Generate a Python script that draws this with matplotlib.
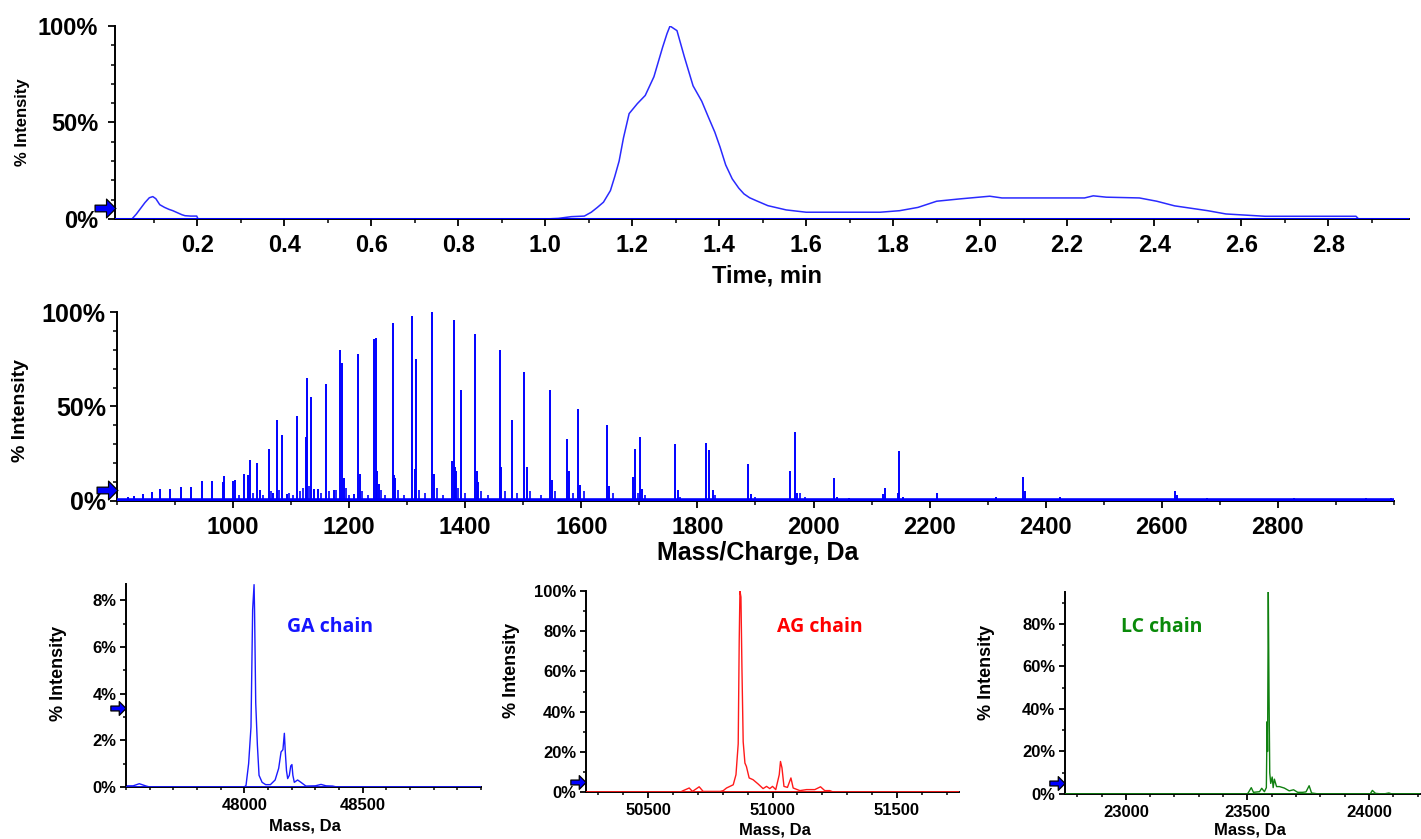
import numpy as np
import matplotlib
matplotlib.use("Agg")
import matplotlib.pyplot as plt
from matplotlib.path import Path
from matplotlib.ticker import MultipleLocator, FuncFormatter, FixedLocator
import matplotlib.transforms as mtransforms

plt.rcParams['font.family'] = ['Liberation Sans', 'DejaVu Sans']
plt.rcParams['font.weight'] = 'bold'

# ---------------- data ----------------
# Top: chromatogram (Time, min vs % intensity)
tic_time = [0.011, 0.05, 0.06, 0.07, 0.08, 0.09, 0.098, 0.105, 0.114, 0.125, 0.135,
            0.144, 0.155, 0.165, 0.172, 0.185, 0.199, 0.202, 1.0, 1.03, 1.06, 1.09,
            1.106, 1.12, 1.134, 1.15, 1.16, 1.17, 1.18, 1.193, 1.212, 1.23, 1.25,
            1.27, 1.28, 1.287, 1.303, 1.32, 1.34, 1.36, 1.375, 1.39, 1.402, 1.415,
            1.43, 1.445, 1.457, 1.47, 1.485, 1.512, 1.554, 1.6, 1.77, 1.815, 1.857,
            1.9, 1.953, 2.022, 2.05, 2.24, 2.26, 2.29, 2.366, 2.406, 2.447, 2.523,
            2.565, 2.655, 2.864, 2.87, 2.986]
tic_int = [0, 0, 2.5, 5.5, 8.5, 11, 11.6, 10.5, 7.4, 6, 5,
           4.3, 3.2, 2.2, 1.7, 1.5, 1.5, 0, 0, 0.3, 1.2, 1.5,
           3.5, 6, 8.7, 14.7, 22, 30, 42, 54.6, 59.8, 64, 73.7,
           89, 96, 100, 97.6, 84, 69, 61, 52.9, 45, 37.3, 28,
           20.8, 16, 13, 11, 9.5, 6.9, 4.7, 3.5, 3.5, 4.3, 6,
           9.2, 10.4, 11.8, 10.9, 10.9, 12, 11.3, 10.9, 9.2, 6.8, 4.3,
           2.6, 1.4, 1.4, 0, 0]

# Middle: mass spectrum (m/z vs % intensity) - main peaks
ms_mz = [818.6, 830, 845.7, 861, 875, 892, 909.7, 927.4, 946, 964.5, 982, 984.6,
         1000, 1003, 1019, 1026, 1028.6, 1041, 1046, 1062.5, 1069.5, 1075, 1085,
         1092.7, 1109.6, 1125, 1128, 1135, 1139, 1146.7, 1160, 1173.7, 1184, 1187,
         1190.7, 1208.5, 1215.5, 1218.5, 1243, 1245.5, 1248.6, 1251, 1275, 1278,
         1279.6, 1309, 1312.7, 1315, 1343, 1346, 1378, 1380.7, 1382, 1383.8, 1393.5,
         1417, 1419.5, 1422, 1459.5, 1462, 1481, 1502, 1505.6, 1546, 1549, 1576,
         1579, 1595, 1598, 1645, 1647, 1689, 1692, 1701, 1704.5, 1760.7, 1766,
         1815.5, 1819.4, 1826, 1887.5, 1893, 1958.8, 1968.3, 1972, 2035.6, 2041,
         2061, 2119.6, 2122.8, 2145, 2147.3, 2154.5, 2213, 2315, 2361, 2365,
         2423.8, 2545, 2622.6, 2627, 2678, 2827, 2952, 2995]
ms_int = [2, 2.6, 3.9, 4.7, 6.5, 6.5, 7.4, 7.4, 10.4, 10.4, 10, 13,
          10.5, 11, 14, 13.5, 21.8, 20, 5.6, 27.6, 4, 42.9, 35,
          3.5, 44.8, 34, 64.9, 55, 6.3, 6.5, 61.9, 5.6, 80, 73,
          12, 3.9, 78, 14, 85.6, 86.5, 16, 8.8, 94.4, 13.5,
          12, 98.2, 17, 75, 100, 14, 21, 96, 18, 16, 59,
          88.6, 16, 10, 80, 18, 43, 68.5, 18, 59, 11, 33,
          16, 48.7, 8.6, 40, 8, 12.6, 27.6, 34, 6.5, 30, 5.6,
          30.8, 27, 6, 19.7, 3.5, 15.8, 36.6, 4.4, 12, 2.3,
          1.4, 3.5, 7, 4.4, 26.2, 1.8, 4.4, 2.3, 12.7, 5.3,
          2.3, 1.2, 5.4, 3, 1.4, 1.4, 1.4, 1.4]
# Middle: small cluster / noise peaks
ms_minor_mz = [1010, 1035, 1052, 1066, 1079, 1097, 1103, 1115, 1120, 1131, 1152, 1165,
               1178, 1195, 1200, 1222, 1232, 1255, 1262, 1285, 1295, 1320, 1330, 1352,
               1362, 1388, 1400, 1428, 1440, 1468, 1490, 1512, 1530, 1555, 1585, 1605,
               1655, 1697, 1710, 1770, 1830, 1900, 1976, 1985]
ms_minor_int = [3, 4, 3, 5, 6, 4, 3, 5, 7, 8, 4, 5,
                6, 7, 3, 5, 3, 6, 3, 6, 3, 6, 4, 7,
                3, 7, 4, 5, 3, 5, 4, 5, 3, 5, 4, 5,
                4, 4, 3, 2, 3, 2, 4, 2]
ms_base_mz = [800, 3000]
ms_base_int = [0.6, 0.6]

# Bottom: deconvoluted spectra
ga_mass = [47500, 47530, 47556, 47585, 47600, 48000, 48007, 48018, 48028, 48035, 48041,
           48043, 48048, 48055, 48062, 48075, 48090, 48110, 48130, 48145, 48155, 48163,
           48169, 48173, 48178, 48183, 48190, 48196, 48201, 48205, 48211, 48225, 48239,
           48260, 48300, 48324, 48345, 48373, 48390, 49000]
ga_int = [0.05, 0.05, 0.14, 0.04, 0, 0, 0.07, 1.0, 2.57, 7.6, 8.67,
          7.6, 3.6, 1.8, 0.5, 0.2, 0.1, 0.1, 0.3, 0.8, 1.5, 1.6,
          2.3, 1.5, 0.7, 0.36, 0.5, 0.9, 0.96, 0.5, 0.2, 0.3, 0.2,
          0.04, 0.05, 0.11, 0.05, 0.04, 0, 0]

ag_mass = [50250, 50630, 50641, 50665, 50678, 50705, 50721, 50790, 50802, 50815, 50842,
           50853, 50862, 50866, 50869, 50873, 50877, 50882, 50889, 50895, 50906, 50915,
           50922, 50942, 50962, 50976, 50989, 51000, 51013, 51027, 51032, 51038, 51046,
           51060, 51074, 51083, 51110, 51137, 51170, 51193, 51210, 51230, 51244, 51750]
ag_int = [0, 0, 0.7, 2, 0.3, 2.6, 0.3, 0.3, 0.7, 2, 3.6,
          8.6, 24, 75, 100, 97, 61.6, 25, 14.4, 12.7, 7, 6.5,
          6.1, 4, 1.7, 2.8, 1.7, 2.8, 1.2, 8.6, 15.2, 12, 2.8,
          2.3, 7, 2, 0.7, 1.2, 1.2, 2.6, 0.7, 0.7, 0, 0]

lc_mass = [22750, 23495, 23502, 23516, 23525, 23550, 23559, 23570, 23578, 23581, 23583,
           23586, 23589, 23592, 23596, 23602, 23606, 23611, 23620, 23632, 23652, 23672,
           23690, 23707, 23727, 23741, 23754, 23764, 23782, 23800, 24005, 24014, 24027,
           24060, 24082, 24095, 24210]
lc_int = [0, 0, 0.3, 3, 0.8, 1.1, 2.7, 1.1, 3, 34, 20,
          95, 47, 10, 5, 8, 3, 7, 3.5, 3.5, 2.8, 1.5,
          2, 0.8, 0.8, 1, 3.9, 0.5, 0.2, 0, 0, 1.7, 0.3,
          0, 0.5, 0, 0]

# ---------------- styling helpers ----------------
BLUE = '#0000ff'
arrow_path = Path([(-1.0, -0.32), (0.1, -0.32), (0.1, -0.9), (1.0, 0.0),
                   (0.1, 0.9), (0.1, 0.32), (-1.0, 0.32), (-1.0, -0.32)],
                  [Path.MOVETO] + [Path.LINETO] * 6 + [Path.CLOSEPOLY])


def pct(v, pos):
    return '%d%%' % round(v)


def style_axes(ax, ytick_fs, xtick_fs, ypad, xpad, tl=5):
    for s in ['top', 'right']:
        ax.spines[s].set_visible(False)
    for s in ['left', 'bottom']:
        ax.spines[s].set_linewidth(1.4)
        ax.spines[s].set_color('black')
    ax.tick_params(which='major', direction='out', length=tl, width=1.3,
                   colors='black')
    ax.tick_params(which='minor', direction='out', length=tl - 2, width=1.1,
                   colors='black')
    ax.tick_params(axis='y', which='major', labelsize=ytick_fs, pad=ypad)
    ax.tick_params(axis='x', which='major', labelsize=xtick_fs, pad=xpad)
    ax.yaxis.set_major_formatter(FuncFormatter(pct))
    for lab in ax.get_xticklabels() + ax.get_yticklabels():
        lab.set_fontweight('bold')


def add_arrow(ax, yval, ms):
    trans = mtransforms.blended_transform_factory(ax.transAxes, ax.transData)
    trans = trans + mtransforms.ScaledTranslation(-ms / 2.0 / 72.0, 0,
                                                  ax.figure.dpi_scale_trans)
    ax.plot([0], [yval], marker=arrow_path, markersize=ms, color=BLUE,
            markeredgecolor='black', markeredgewidth=0.9, transform=trans,
            clip_on=False, zorder=5)


fig = plt.figure(figsize=(14.21, 8.39), dpi=100)

# ---------------- top: chromatogram ----------------
ax1 = fig.add_axes([0.0809, 0.739, 0.9107, 0.230])
ax1.plot(tic_time, tic_int, color='#2a2aff', lw=1.1)
ax1.axhline(0, color=BLUE, lw=2.2, zorder=3)
ax1.set_xlim(0.011, 2.986)
ax1.set_ylim(0, 100)
ax1.xaxis.set_major_locator(FixedLocator([0.2, 0.4, 0.6, 0.8, 1.0, 1.2, 1.4, 1.6,
                                          1.8, 2.0, 2.2, 2.4, 2.6, 2.8]))
ax1.xaxis.set_major_formatter(FuncFormatter(lambda v, p: '%.1f' % v))
ax1.xaxis.set_minor_locator(MultipleLocator(0.1))
ax1.yaxis.set_major_locator(MultipleLocator(50))
ax1.yaxis.set_minor_locator(MultipleLocator(10))
style_axes(ax1, 17, 17, 7, 6)
ax1.set_xlabel('Time, min', fontsize=17, fontweight='bold')
ax1.xaxis.set_label_coords(0.504, -0.235)
ax1.set_ylabel('% Intensity', fontsize=12, fontweight='bold')
ax1.yaxis.set_label_coords(-0.066, 0.5)
add_arrow(ax1, 5.7, 15)

# ---------------- middle: mass spectrum ----------------
ax2 = fig.add_axes([0.0823, 0.403, 0.8987, 0.225])
ax2.vlines(ms_minor_mz, 0, ms_minor_int, color=BLUE, lw=1.2)
ax2.vlines(ms_mz, 0, ms_int, color=BLUE, lw=1.4)
ax2.plot(ms_base_mz, ms_base_int, color=BLUE, lw=2.6, zorder=3)
ax2.set_xlim(800, 3000)
ax2.set_ylim(0, 100)
ax2.xaxis.set_major_locator(FixedLocator(list(range(1000, 2801, 200))))
ax2.xaxis.set_major_formatter(FuncFormatter(lambda v, p: '%d' % v))
ax2.xaxis.set_minor_locator(MultipleLocator(100))
ax2.yaxis.set_major_locator(MultipleLocator(50))
ax2.yaxis.set_minor_locator(MultipleLocator(10))
style_axes(ax2, 18, 17, 3, 6)
ax2.set_xlabel('Mass/Charge, Da', fontsize=18, fontweight='bold')
ax2.xaxis.set_label_coords(0.502, -0.21)
ax2.set_ylabel('% Intensity', fontsize=14, fontweight='bold')
ax2.yaxis.set_label_coords(-0.069, 0.48)
add_arrow(ax2, 5.8, 15)

# ---------------- bottom panels ----------------
panels = [
    dict(rect=[0.0887, 0.062, 0.2498, 0.242], x=ga_mass, y=ga_int, color='#1a1aff',
         xlim=(47500, 49000), ylim=(0, 8.7), ymaj=2, ymin=1,
         xticks=[48000, 48500], label='GA chain', lcolor='#1515ff',
         lpos=(0.575, 0.788), ylc=(-0.166, 0.56), xlc=(0.504, -0.155), arrow=3.4),
    dict(rect=[0.4124, 0.056, 0.2625, 0.2396], x=ag_mass, y=ag_int, color='#ff1a1a',
         xlim=(50250, 51750), ylim=(0, 100), ymaj=20, ymin=10,
         xticks=[50500, 51000, 51500], label='AG chain', lcolor='#ff0000',
         lpos=(0.627, 0.82), ylc=(-0.177, 0.607), xlc=(0.507, -0.15), arrow=5.0),
    dict(rect=[0.7495, 0.0536, 0.2498, 0.2408], x=lc_mass, y=lc_int, color='#108010',
         xlim=(22750, 24210), ylim=(0, 95), ymaj=20, ymin=10,
         xticks=[23000, 23500, 24000], label='LC chain', lcolor='#0a8a0a',
         lpos=(0.273, 0.827), ylc=(-0.197, 0.60), xlc=(0.52, -0.14), arrow=5.3),
]

for p in panels:
    ax = fig.add_axes(p['rect'])
    ax.plot(p['x'], p['y'], color=p['color'], lw=1.0)
    ax.axhline(0, color=p['color'], lw=2.0, zorder=3)
    ax.set_xlim(*p['xlim'])
    ax.set_ylim(*p['ylim'])
    ax.xaxis.set_major_locator(FixedLocator(p['xticks']))
    ax.xaxis.set_major_formatter(FuncFormatter(lambda v, q: '%d' % v))
    ax.xaxis.set_minor_locator(MultipleLocator(100))
    ax.yaxis.set_major_locator(MultipleLocator(p['ymaj']))
    ax.yaxis.set_minor_locator(MultipleLocator(p['ymin']))
    style_axes(ax, 12, 12, 3, 4, tl=4)
    ax.set_xlabel('Mass, Da', fontsize=12, fontweight='bold')
    ax.xaxis.set_label_coords(*p['xlc'])
    ax.set_ylabel('% Intensity', fontsize=13, fontweight='bold')
    ax.yaxis.set_label_coords(*p['ylc'])
    ax.text(p['lpos'][0], p['lpos'][1], p['label'], transform=ax.transAxes,
            ha='center', va='center', fontsize=14, fontweight='bold',
            color=p['lcolor'], family=['Open Sans', 'DejaVu Sans'])
    add_arrow(ax, p['arrow'], 11)

fig.savefig('out.png', dpi=100)
